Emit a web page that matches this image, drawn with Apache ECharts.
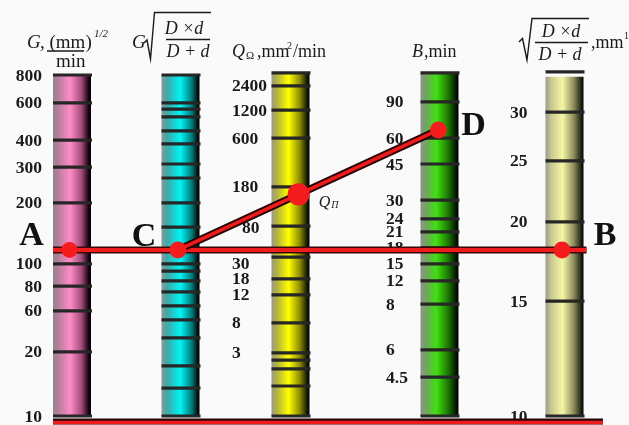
<!DOCTYPE html>
<html>
<head>
<meta charset="utf-8">
<script src="https://cdn.jsdelivr.net/npm/echarts@6/dist/echarts.min.js"></script>
<style>
  html, body { margin: 0; padding: 0; background: #fafafa; }
  #chart { width: 629px; height: 425px; }
</style>
</head>
<body>
<div id="chart"></div>
<script>
// Graduations of each scale: label texts and their positions along the scale (0 = foot, 100 = head)
const gLabels = ['800', '600', '400', '300', '200', '100', '80', '60', '20', '10'];
const gPos    = [100, 91.8, 80.9, 73.0, 62.5, 44.6, 38.1, 30.8, 18.8, 0];

const gsqLabels = ['', '', '', '', '', '', '', '', '', '', '', '', '', '', '', '', '', '', '', ''];
const gsqPos    = [100, 91.8, 90.0, 87.7, 83.6, 79.8, 73.9, 69.8, 62.5, 55.4, 44.6, 42.5, 39.6, 36.4, 32.3, 28.2, 22.9, 14.7, 8.2, 0];

const qLabels = ['', '2400', '1200', '600', '180', '80', '30', '18', '12', '8', '3', '', '', '', ''];
const qPos    = [100.6, 96.8, 89.7, 81.5, 67.2, 55.7, 46.6, 40.2, 35.5, 27.3, 18.5, 16.4, 13.8, 8.8, 0];

const bLabels = ['', '90', '60', '45', '30', '24', '21', '18', '15', '12', '8', '6', '4.5', ''];
const bPos    = [100.6, 92.1, 81.5, 73.9, 63.3, 57.8, 54.0, 49.3, 44.6, 39.6, 32.8, 19.4, 11.4, 0];

const rLabels = ['', '30', '25', '20', '15', '10'];
const rPos    = [100.9, 89.1, 74.8, 56.9, 33.7, 0];

// Worked example: readings on each scale
const readG = 48.7;    // A
const readGsq = 48.7;  // C
const readQ = 65.0;    // Q_П
const readB = 83.9;    // D
const readR = 48.7;    // B

// ---- layout ----
const W = 38;                      // column width (x units = px)
const SERIF = '"Liberation Serif", "DejaVu Serif", serif';
const TICK_FONT = 'bold 17.5px ' + SERIF;

function grad(stops) {
  return new echarts.graphic.LinearGradient(0, 0, 1, 0,
    stops.map(s => ({ offset: s[0], color: s[1] })));
}

const COLS = [
  { x: 72, top: 100, pos: gPos, labels: gLabels, labelX: 42, align: 'right',
    fill: [[0, '#8e8a8c'], [0.12, '#b27c9a'], [0.45, '#ff8cc6'], [0.75, '#a24c7a'], [0.94, '#1a0010'], [1, '#000']] },
  { x: 180.5, top: 100, pos: gsqPos, labels: gsqLabels, labelX: 0, align: 'left',
    fill: [[0, '#8a9a9a'], [0.15, '#40a8a8'], [0.5, '#00f4f4'], [0.8, '#007a7a'], [0.95, '#001010'], [1, '#000']] },
  { x: 290.5, top: 100.6, pos: qPos, labels: qLabels, labelX: 232, align: 'left',
    fill: [[0, '#9a9a8a'], [0.15, '#b4b440'], [0.45, '#ffff00'], [0.75, '#8a8a00'], [0.95, '#101000'], [1, '#000']] },
  { x: 439.5, top: 100.6, pos: bPos, labels: bLabels, labelX: 386, align: 'left',
    fill: [[0, '#8e948e'], [0.15, '#70a460'], [0.42, '#40e010'], [0.75, '#1a7000'], [0.95, '#021000'], [1, '#000']] },
  { x: 564.5, top: 99.5, pos: rPos, labels: rLabels, labelX: 510, align: 'left',
    fill: [[0, '#9a9a90'], [0.15, '#c8c890'], [0.45, '#f6f6a6'], [0.75, '#8a8a5a'], [0.95, '#1a1a10'], [1, '#000']] }
];

// small nudges for labels that would collide with the guide line
const LABEL_NUDGE = { '2:30': [0, 6], '2:80': [10, 1] };

const columnSeries = {
  type: 'custom', z: 1, silent: true, clip: false, animation: false,
  data: COLS.map(c => [c.x, c.top]),
  renderItem: function (params, api) {
    const c = COLS[params.dataIndex];
    const p0 = api.coord([api.value(0) - W / 2, api.value(1)]);
    const p1 = api.coord([api.value(0) + W / 2, 0]);
    return {
      type: 'rect',
      shape: { x: p0[0], y: p0[1], width: p1[0] - p0[0], height: p1[1] - p0[1] },
      style: { fill: grad(c.fill) }
    };
  }
};

const tickSeries = COLS.map((c, ci) => ({
  type: 'custom', z: 2, silent: true, clip: false, animation: false,
  data: c.pos.map((p, i) => [c.x, p, c.labels[i]]),
  renderItem: function (params, api) {
    const v = api.value(1);
    const a = api.coord([api.value(0) - W / 2, v]);
    const b = api.coord([api.value(0) + W / 2, v]);
    const label = c.labels[params.dataIndex];
    const children = [{
      type: 'rect',
      shape: { x: a[0], y: a[1] - 1.6, width: b[0] - a[0] + 1, height: 3.2 },
      style: { fill: '#262626' }
    }];
    if (label) {
      const nudge = LABEL_NUDGE[ci + ':' + label] || [0, 0];
      const lx = api.coord([c.labelX, v]);
      children.push({
        type: 'text',
        style: {
          text: label, x: lx[0] + nudge[0], y: lx[1] + 1 + nudge[1],
          font: TICK_FONT, fill: '#1a1a1a', align: c.align, verticalAlign: 'middle'
        }
      });
    }
    return { type: 'group', children: children };
  }
}));

// guide lines of the worked example
const xA = COLS[0].x - 2.5, xC = COLS[1].x - 2.5, xD = COLS[3].x - 1, xB = COLS[4].x - 2.5;
const tQ = (readQ - readGsq) / (readB - readGsq);
const xQ = xC + tQ * (xD - xC);

function guide(data, width, color, z) {
  return {
    type: 'line', data: data, symbol: 'none', silent: true, clip: false, animation: false, z: z,
    lineStyle: { color: color, width: width, cap: 'butt' }
  };
}

const abLine = [[COLS[0].x - W / 2, readG], [COLS[4].x + W / 2 + 3, readR]];
const cdLine = [[xC, readGsq], [xD, readB]];
const baseLine = [[COLS[0].x - W / 2, -1.6], [603, -1.6]];
const baseLineRed = [[COLS[0].x - W / 2, -1.9], [603, -1.9]];

const LETTER = { fontSize: 34, fontWeight: 'bold', fontFamily: SERIF, color: '#111',
  opacity: 1, textBorderWidth: 0 };

const dots = {
  type: 'scatter', z: 5, silent: true, clip: false, animation: false,
  itemStyle: { color: '#f41c1c', opacity: 1 },
  label: { show: true, position: 'inside' },
  data: [
    { value: [xA, readG], symbolSize: 16, label: Object.assign({ formatter: 'A', offset: [-38, -14] }, LETTER) },
    { value: [xC, readGsq], symbolSize: 17, label: Object.assign({ formatter: 'C', offset: [-34, -13] }, LETTER) },
    { value: [xD, readB], symbolSize: 17, label: Object.assign({ formatter: 'D', offset: [35, -4] }, LETTER) },
    { value: [xB, readR], symbolSize: 17, label: Object.assign({ formatter: 'B', offset: [43, -14] }, LETTER) },
    { value: [xQ, readQ], symbolSize: 22, label: {
        formatter: '{q|Q}{s|П}', offset: [30, 7], opacity: 1, textBorderWidth: 0,
        rich: {
          q: { fontFamily: SERIF, fontStyle: 'italic', fontSize: 16, color: '#1a1a1a', verticalAlign: 'bottom' },
          s: { fontFamily: SERIF, fontStyle: 'italic', fontSize: 10, color: '#1a1a1a', verticalAlign: 'bottom', padding: [8, 0, 0, 1] }
        } } }
  ]
};

// scale headings
function t(text, x, y, size, opts) {
  opts = opts || {};
  return {
    type: 'text', silent: true, z: 10,
    style: {
      text: text, x: x, y: y, fill: '#1a1a1a',
      font: (opts.italic ? 'italic ' : '') + (opts.bold ? 'bold ' : '') + size + 'px ' + SERIF,
      align: opts.align || 'left', verticalAlign: 'middle'
    }
  };
}
function pl(points, w) {
  return { type: 'polyline', silent: true, z: 10, shape: { points: points },
    style: { stroke: '#1a1a1a', lineWidth: w || 1.3, fill: null } };
}

const headings = [
  // G, (mm/min)^1/2
  t('G', 27, 43, 19, { italic: true }),
  t(', (mm)', 40, 43, 19),
  t('1/2', 94, 34, 11, { italic: true }),
  pl([[47, 51], [84, 51]], 1.3),
  t('min', 56, 62, 19),
  // G sqrt(D*d/(D+d))
  t('G', 132, 43, 19, { italic: true }),
  pl([[144, 43], [147, 40], [150.5, 59], [154.5, 12.5], [211, 12.5]], 1.4),
  t('D ×d', 184, 29, 18, { italic: true, align: 'center' }),
  pl([[166, 39.5], [210, 39.5]], 1.3),
  t('D + d', 188, 52, 18, { italic: true, align: 'center' }),
  // Q_Ω, mm2/min
  t('Q', 232, 52, 18, { italic: true }),
  t('Ω', 246, 56, 11),
  t(',mm', 257, 52, 18),
  t('2', 287, 46, 10),
  t('/min', 293, 52, 18),
  // B, min
  t('B', 412, 52, 18, { italic: true }),
  t(',min', 424, 52, 18),
  // sqrt(D*d/(D+d)), mm^1
  pl([[519, 42], [522.5, 38.5], [527, 60], [532, 18.5], [589, 18.5]], 1.4),
  t('D ×d', 561, 32, 18, { italic: true, align: 'center' }),
  pl([[535, 42.5], [588, 42.5]], 1.3),
  t('D + d', 560, 55, 18, { italic: true, align: 'center' }),
  t(',mm', 591, 43, 18),
  t('1', 624, 36, 10)
];

const chart = echarts.init(document.getElementById('chart'), null, { renderer: 'canvas' });
chart.setOption({
  backgroundColor: '#fafafa',
  animation: false,
  grid: { left: 0, right: 0, top: 75, bottom: 9 },
  xAxis: { type: 'value', min: 0, max: 629, show: false },
  yAxis: { type: 'value', min: 0, max: 100, show: false },
  graphic: headings,
  series: [columnSeries].concat(tickSeries).concat([
    guide(baseLine, 6, '#2a0606', 3),
    guide(baseLineRed, 3.5, '#ee1c1c', 3),
    guide(abLine, 7, '#3a0808', 3),
    guide(abLine, 4, '#ee1c1c', 3),
    guide(cdLine, 7.5, '#2a0303', 3),
    guide(cdLine, 3.5, '#ee1c1c', 3),
    dots
  ])
});
</script>
</body>
</html>
